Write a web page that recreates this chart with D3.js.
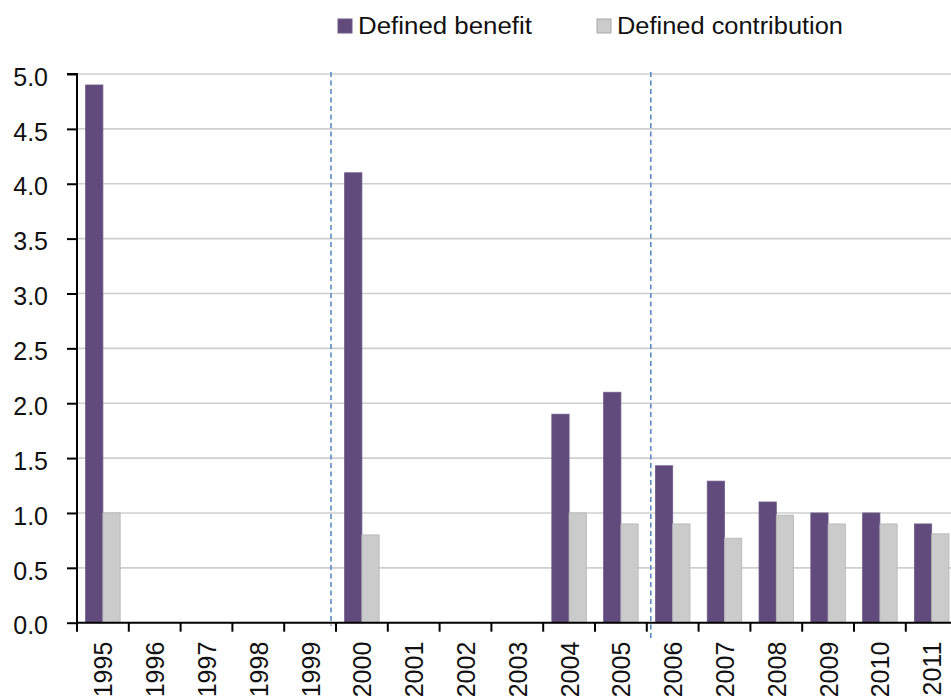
<!DOCTYPE html>
<html>
<head>
<meta charset="utf-8">
<script src="https://cdn.jsdelivr.net/npm/d3@7"></script>
<style>
  html, body { margin: 0; padding: 0; background: #fff; overflow: hidden; }
  svg { display: block; font-family: "Liberation Sans", Arial, sans-serif; }
</style>
</head>
<body>
<svg id="chart" width="951" height="697"></svg>
<script>
const years = ["1995","1996","1997","1998","1999","2000","2001","2002","2003","2004","2005","2006","2007","2008","2009","2010","2011"];
const definedBenefit = [4.9, null, null, null, null, 4.1, null, null, null, 1.9, 2.1, 1.43, 1.29, 1.1, 1.0, 1.0, 0.9];
const definedContribution = [1.0, null, null, null, null, 0.8, null, null, null, 1.0, 0.9, 0.9, 0.77, 0.98, 0.9, 0.9, 0.81];
const yTicks = [0, 0.5, 1.0, 1.5, 2.0, 2.5, 3.0, 3.5, 4.0, 4.5, 5.0];
const seriesNames = ["Defined benefit", "Defined contribution"];
const seriesColors = ["#614A7C", "#CBCBCB"];
const seriesStrokes = ["#6E5A88", "#B5B5B5"];

(function () {
const svg = d3.select("#chart");
const mLeft = 77, mTop = 74, mBottom = 622.7;
const bandW = 51.8;

const x = d3.scaleBand().domain(years).range([mLeft, mLeft + bandW * years.length]).padding(0);
const y = d3.scaleLinear().domain([0, 5]).range([mBottom, mTop]);
const sub = d3.scaleBand().domain([0, 1]).range([x.bandwidth() / 6, x.bandwidth() * 5 / 6]).padding(0);

// gridlines
svg.append("g").selectAll("line").data(yTicks.filter(d => d > 0)).join("line")
  .attr("x1", mLeft).attr("x2", 951)
  .attr("y1", d => y(d)).attr("y2", d => y(d))
  .attr("stroke", "#CFCFCF").attr("stroke-width", 1.6);

// bars
const rows = years.map((yr, i) => ({ yr, vals: [definedBenefit[i], definedContribution[i]] }));
const g = svg.append("g");
rows.forEach(r => {
  r.vals.forEach((v, k) => {
    if (v == null) return;
    g.append("rect")
      .attr("x", x(r.yr) + sub(k))
      .attr("y", y(v))
      .attr("width", sub.bandwidth())
      .attr("height", y(0) - y(v))
      .attr("fill", seriesColors[k])
      .attr("stroke", seriesStrokes[k])
      .attr("stroke-width", 0.8);
  });
});

// y axis
const yAxis = d3.axisLeft(y).tickValues(yTicks).tickFormat(d3.format(".1f")).tickSize(10).tickPadding(19);
const yg = svg.append("g").attr("transform", `translate(${mLeft},0)`).call(yAxis);
yg.select(".domain").attr("stroke", "#000").attr("stroke-width", 2).attr("d", `M-10,${mTop}H0V${mBottom}`);
yg.selectAll(".tick line").attr("stroke", "#000").attr("stroke-width", 2);
yg.selectAll(".tick text").attr("font-size", 25).attr("fill", "#111").attr("dy", "0.45em")
  .attr("font-family", "'Liberation Sans', Arial, sans-serif");

// x axis
const xg = svg.append("g").attr("transform", `translate(0,${mBottom})`);
xg.append("line").attr("x1", mLeft).attr("x2", 951).attr("y1", 0).attr("y2", 0)
  .attr("stroke", "#000").attr("stroke-width", 2);
const boundaries = years.map(yr => x(yr)).concat([x(years[years.length - 1]) + x.bandwidth()]);
xg.selectAll("line.tk").data(boundaries).join("line").attr("class", "tk")
  .attr("x1", d => d).attr("x2", d => d).attr("y1", 0).attr("y2", 9)
  .attr("stroke", "#000").attr("stroke-width", 2);
xg.selectAll("text").data(years).join("text")
  .attr("transform", d => `translate(${x(d) + x.bandwidth() / 2},19) rotate(-90)`)
  .attr("text-anchor", "end")
  .attr("dy", "0.38em")
  .attr("font-size", 25)
  .attr("fill", "#111")
  .text(d => d);

// dashed dividers
const dividers = [
  { x: x("2000") - 5, y2: y(0) + 3 },
  { x: x("2006") + 4, y2: y(0) + 16 }
];
svg.append("g").selectAll("line").data(dividers).join("line")
  .attr("x1", d => d.x).attr("x2", d => d.x)
  .attr("y1", mTop - 2).attr("y2", d => d.y2)
  .attr("stroke", "#5B8AC6").attr("stroke-width", 1.6)
  .attr("stroke-dasharray", "5,3.5");

// legend
const legendItems = [
  { name: seriesNames[0], color: seriesColors[0], stroke: seriesStrokes[0], sx: 338, tx: 358, len: 174 },
  { name: seriesNames[1], color: seriesColors[1], stroke: "#A8A8A8", sx: 597, tx: 617, len: 226 }
];
const lg = svg.append("g");
legendItems.forEach(it => {
  lg.append("rect").attr("x", it.sx).attr("y", 19).attr("width", 14).attr("height", 14)
    .attr("fill", it.color).attr("stroke", it.stroke).attr("stroke-width", 1);
  lg.append("text").attr("x", it.tx).attr("y", 33.5)
    .attr("font-size", 23).attr("fill", "#111")
    .attr("textLength", it.len).attr("lengthAdjust", "spacingAndGlyphs")
    .text(it.name);
});
})();
</script>
</body>
</html>
